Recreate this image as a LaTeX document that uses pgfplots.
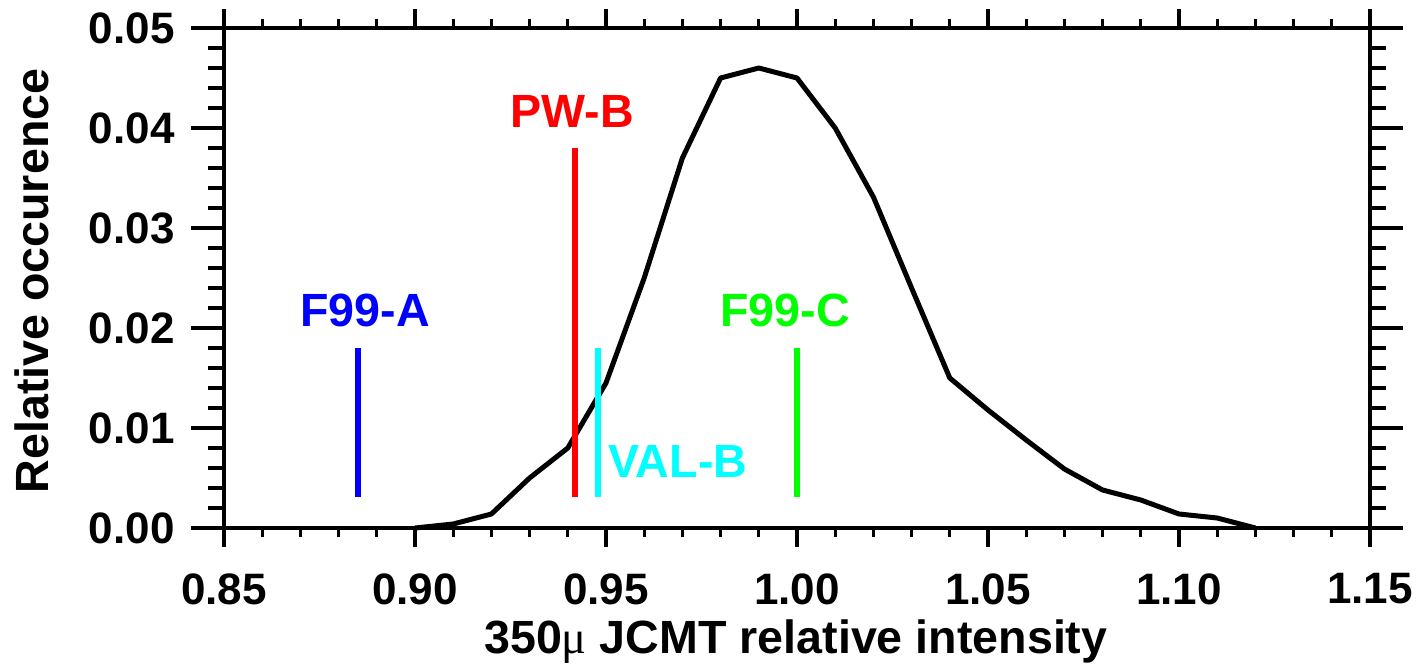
\documentclass[border=0pt]{standalone}
\usepackage{pgfplots}
\pgfplotsset{compat=1.18}
\usepackage{fontspec}
\setmainfont{Liberation Sans}
\newfontfamily\serifmu{Liberation Serif}
\definecolor{idlblue}{RGB}{0,0,255}
\definecolor{idlred}{RGB}{255,0,0}
\definecolor{idlcyan}{RGB}{0,255,255}
\definecolor{idlgreen}{RGB}{0,255,0}
\newcommand{\bigfont}{\fontsize{22}{26}\selectfont\bfseries}
\newcommand{\labfont}{\fontsize{23.3}{27}\selectfont\bfseries}
\begin{document}
\begin{tikzpicture}
\path[use as bounding box] (-112pt,-68pt) rectangle (598pt,264pt);
% y ticks (longer) on a twin axis
\begin{axis}[
  at={(0,0)}, anchor=south west,
  scale only axis, width=573pt, height=250pt,
  xmin=0.85, xmax=1.15, ymin=0, ymax=0.05,
  scaled ticks=false,
  axis line style={line width=1.6pt},
  tick style={line width=1.6pt, black},
  tick align=outside,
  xtick=\empty,
  ytick={0,0.01,0.02,0.03,0.04,0.05},
  yticklabels={},
  minor y tick num=4,
  major tick length=16.5pt, minor tick length=8pt,
]
\end{axis}
\begin{axis}[
  at={(0,0)}, anchor=south west,
  scale only axis, width=573pt, height=250pt,
  xmin=0.85, xmax=1.15, ymin=0, ymax=0.05,
  scaled ticks=false,
  clip=false,
  axis line style={line width=1.6pt},
  tick style={line width=1.6pt, black},
  tick align=outside,
  major tick length=9.5pt, minor tick length=4.5pt,
  xtick={0.85,0.90,0.95,1.00,1.05,1.10,1.15},
  xticklabels={0.85,0.90,0.95,1.00,1.05,1.10,1.15},
  minor x tick num=4,
  ytick={0,0.01,0.02,0.03,0.04,0.05},
  yticklabels={0.00,0.01,0.02,0.03,0.04,0.05},
  y tick style={draw=none},
  tick label style={font=\bigfont},
  xticklabel style={anchor=north, inner sep=0pt, yshift=-13pt},
  yticklabel style={anchor=east, inner sep=0pt, xshift=-15pt},
  xlabel={350{\serifmu\mdseries μ} JCMT relative intensity},
  ylabel={Relative occurence},
  label style={font=\labfont},
  xlabel style={at={(axis description cs:0.499,-0.25)}, anchor=base, inner sep=0pt},
  ylabel style={at={(axis description cs:-0.1535,0.494)}, anchor=base, rotate=0, inner sep=0pt},
]
\addplot[black, line width=2.5pt, line join=round] coordinates {
(0.90,0.0000) (0.91,0.0004) (0.92,0.0014) (0.93,0.0050) (0.94,0.0080)
(0.95,0.0145) (0.96,0.0250) (0.97,0.0370) (0.98,0.0450) (0.99,0.0460)
(1.00,0.0450) (1.01,0.0400) (1.02,0.0331) (1.03,0.0240) (1.04,0.0150)
(1.05,0.0118) (1.06,0.0088) (1.07,0.0059) (1.08,0.0038) (1.09,0.0028)
(1.10,0.0014) (1.11,0.0010) (1.12,0.0000)
};
\addplot[idlblue, line width=3pt] coordinates {(0.885,0.0031) (0.885,0.018)};
\addplot[idlred, line width=3pt] coordinates {(0.942,0.0031) (0.942,0.038)};
\addplot[idlcyan, line width=3pt] coordinates {(0.948,0.0031) (0.948,0.018)};
\addplot[idlgreen, line width=3pt] coordinates {(1.000,0.0031) (1.000,0.018)};
\node[font=\labfont, text=idlblue, anchor=base, inner sep=0pt] at (axis cs:0.8869,0.0201) {F99-A};
\node[font=\labfont, text=idlred, anchor=base, inner sep=0pt] at (axis cs:0.9412,0.0400) {PW-B};
\node[font=\labfont, text=idlcyan, anchor=base west, inner sep=0pt] at (axis cs:0.9505,0.0051) {VAL-B};
\node[font=\labfont, text=idlgreen, anchor=base, inner sep=0pt] at (axis cs:0.9969,0.0201) {F99-C};
\end{axis}
\end{tikzpicture}
\end{document}
